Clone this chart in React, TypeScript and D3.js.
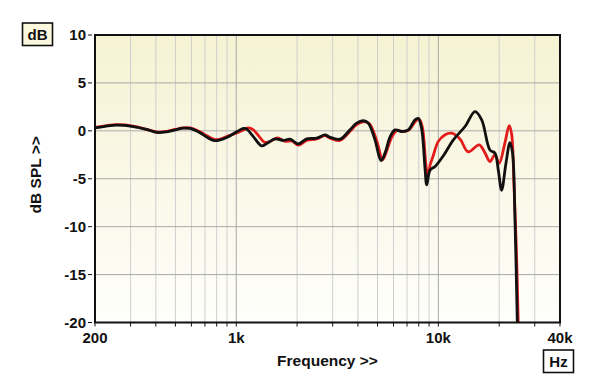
import React from 'react';
import * as d3 from 'd3';

// frequency response, two measurements
const freqBlack = [200, 256, 309, 360, 404, 453, 500, 547, 590, 661, 720, 770, 816, 896, 1010, 1084, 1125, 1215, 1336, 1410, 1555, 1710, 1846, 2029, 2231, 2500, 2750, 2900, 3262, 3654, 3942, 4253, 4500, 4858, 5205, 5446, 5763, 6102, 6584, 7103, 7666, 7960, 8270, 8590, 8760, 9099, 9634, 10590, 11870, 13550, 15190, 16390, 18000, 19060, 19800, 20570, 21600, 22620, 23300, 23950, 24580];
const dbBlack = [0.3, 0.6, 0.45, 0.15, -0.17, -0.1, 0.1, 0.28, 0.25, -0.2, -0.7, -1.0, -1.0, -0.7, -0.07, 0.25, 0.2, -0.6, -1.57, -1.36, -0.84, -1.0, -0.87, -1.36, -0.84, -0.77, -0.42, -0.66, -0.87, 0.1, 0.8, 1.05, 0.8, -0.94, -3.1, -2.33, -0.66, 0.1, -0.07, 0.1, 1.15, 1.3, 0.2, -3.9, -5.64, -4.1, -3.73, -2.6, -0.94, 0.45, 2.0, 1.15, -2.0, -2.33, -4.1, -6.2, -3.4, -1.22, -2.33, -9.3, -19.9];

const freqRed = [200, 256, 309, 360, 404, 453, 500, 547, 590, 661, 720, 770, 816, 896, 1010, 1084, 1150, 1215, 1300, 1380, 1470, 1600, 1750, 1880, 2029, 2231, 2500, 2750, 2900, 3262, 3654, 3942, 4253, 4550, 4950, 5300, 5550, 5900, 6250, 6584, 7103, 7750, 8050, 8350, 8650, 8850, 9150, 9400, 10000, 10800, 11650, 12290, 12900, 14060, 15910, 17020, 18000, 19060, 20000, 21330, 22420, 23040, 23700, 24300, 24850];
const dbRed = [0.35, 0.65, 0.5, 0.15, -0.12, -0.05, 0.15, 0.3, 0.3, -0.1, -0.55, -0.85, -0.9, -0.6, -0.2, 0.1, 0.3, 0.1, -0.6, -1.2, -1.1, -0.75, -1.1, -1.05, -1.5, -1.0, -0.85, -0.5, -0.75, -1.0, -0.05, 0.65, 0.95, 0.75, -1.0, -3.0, -2.1, -0.6, 0.05, -0.05, 0.05, 1.05, 1.2, 0.3, -3.2, -4.7, -3.4, -2.7, -1.1, -0.4, -0.25, -0.5, -0.94, -2.2, -1.46, -2.3, -3.2, -2.5, -3.4, -1.3, 0.55, -0.3, -5.9, -12, -19.9];

const yTicks = [10, 5, 0, -5, -10, -15, -20];
const xGrid = [300, 400, 500, 600, 700, 800, 900, 1000, 2000, 3000, 4000, 5000, 6000, 7000, 8000, 9000, 10000, 20000, 30000];
const xLabels = [[200, '200'], [1000, '1k'], [10000, '10k'], [40000, '40k']] as [number, string][];

const W = 600, H = 389;
const left = 95, right = 560, top = 35, bottom = 322.5;
const font = '"Liberation Sans", Arial, sans-serif';

export default function App() {
  const x = d3.scaleLog().domain([200, 40000]).range([left, right]);
  const y = d3.scaleLinear().domain([-20, 10]).range([bottom, top]);
  const line = d3.line<[number, number]>()
    .x(d => x(d[0]))
    .y(d => y(d[1]))
    .curve(d3.curveCatmullRom.alpha(0.5));

  const black = line(freqBlack.map((f, i) => [f, dbBlack[i]]));
  const red = line(freqRed.map((f, i) => [f, dbRed[i]]));

  return (
    <svg width={W} height={H} style={{ position: 'absolute', left: 0, top: 0, background: '#fff' }}>
      <defs>
        <linearGradient id="bg" x1="0" y1="0" x2="0" y2="1">
          <stop offset="0" stopColor="#f6f2d3" />
          <stop offset="1" stopColor="#fefefb" />
        </linearGradient>
        <clipPath id="plot">
          <rect x={left} y={top} width={right - left} height={bottom - top} />
        </clipPath>
      </defs>

      <rect x={left} y={top} width={right - left} height={bottom - top} fill="url(#bg)" />

      {xGrid.map(f => (
        <line key={f} x1={x(f)} x2={x(f)} y1={top} y2={bottom}
          stroke={f === 1000 || f === 10000 ? '#a8a8a8' : '#cfcfcf'} strokeWidth={1} />
      ))}
      {yTicks.slice(1, -1).map(v => (
        <line key={v} x1={left} x2={right} y1={y(v)} y2={y(v)} stroke="#aaaaaa" strokeWidth={1} />
      ))}

      <g clipPath="url(#plot)" fill="none" strokeLinejoin="round" strokeLinecap="round">
        <path d={red!} stroke="#e21b1b" strokeWidth={2.8} />
        <path d={black!} stroke="#111" strokeWidth={2.8} />
      </g>

      <rect x={left} y={top} width={right - left} height={bottom - top} fill="none" stroke="#111" strokeWidth={2} />

      {/* y axis */}
      {yTicks.map(v => (
        <g key={v}>
          <line x1={88} x2={92} y1={y(v)} y2={y(v)} stroke="#111" strokeWidth={1} />
          <text x={86} y={y(v)} dy="0.36em" textAnchor="end" fontFamily={font} fontWeight="bold" fontSize={15} fill="#111">{v}</text>
        </g>
      ))}

      {/* x axis */}
      {[200, ...xGrid, 40000].map(f => (
        <line key={f} x1={x(f)} x2={x(f)} y1={bottom} y2={bottom + 4} stroke="#111" strokeWidth={1} />
      ))}
      {xLabels.map(([f, t]) => (
        <text key={t} x={x(f)} y={343} textAnchor="middle" fontFamily={font} fontWeight="bold" fontSize={15} fill="#111">{t}</text>
      ))}

      <text x={(left + right) / 2} y={366} textAnchor="middle" fontFamily={font} fontWeight="bold" fontSize={15.5} fill="#111">Frequency &gt;&gt;</text>
      <text transform={`translate(41,${(top + bottom) / 2 - 4}) rotate(-90)`} textAnchor="middle" fontFamily={font} fontWeight="bold" fontSize={15.5} fill="#111">dB SPL &gt;&gt;</text>

      <rect x={22.5} y={23} width={30} height={22.5} fill="#fbf8de" stroke="#111" strokeWidth={1.6} />
      <text x={37.5} y={34.5} dy="0.36em" textAnchor="middle" fontFamily={font} fontWeight="bold" fontSize={15} fill="#111">dB</text>

      <rect x={543.5} y={350} width={30} height={22.5} fill="#fff" stroke="#111" strokeWidth={1.6} />
      <text x={558.5} y={361.5} dy="0.36em" textAnchor="middle" fontFamily={font} fontWeight="bold" fontSize={15} fill="#111">Hz</text>
    </svg>
  );
}
